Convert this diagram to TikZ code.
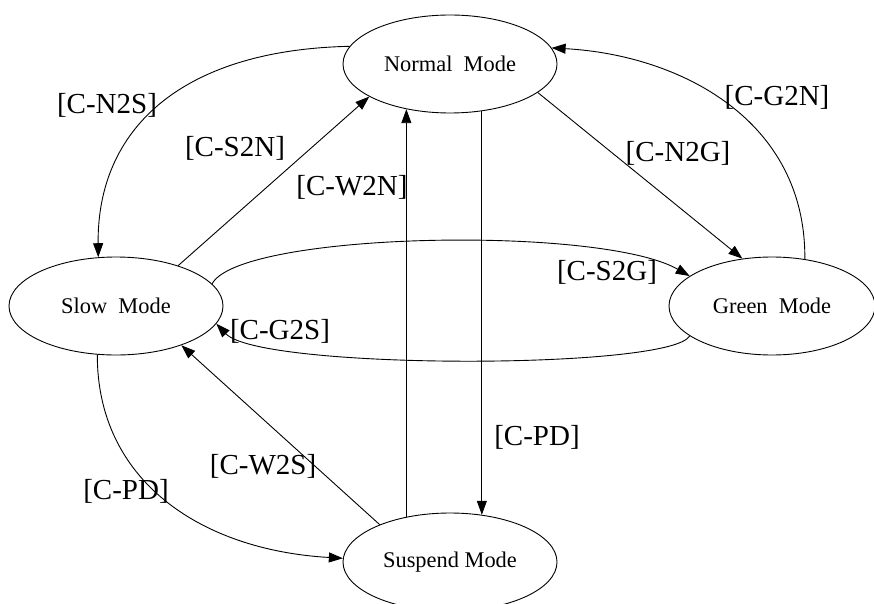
\documentclass[tikz,border=0pt]{standalone}
\usepackage{fontspec}
\setmainfont{Liberation Serif}
\usetikzlibrary{shapes.geometric,arrows.meta}
\begin{document}
\begin{tikzpicture}[x=1pt,y=-1pt,
  state/.style={ellipse,draw,line width=0.9pt,minimum width=214pt,minimum height=98pt,inner sep=0pt,font=\fontsize{22.4}{26}\selectfont},
  edge/.style={line width=0.9pt,-{Triangle[length=14pt,width=10pt]}},
  lab/.style={font=\fontsize{29}{34}\selectfont,inner sep=0pt}]
\useasboundingbox (0,0) rectangle (874,604);
\clip (0,0) rectangle (874,604);
\node[state] (N) at (450,64) {Normal\ \ Mode};
\node[state] (S) at (116,306) {Slow\ \ Mode};
\node[state,minimum width=206pt] (G) at (772,306) {Green\ \ Mode};
\node[state] (U) at (450,562) {Suspend Mode};

\draw[edge] (N.170) .. controls (180,50) and (97,130) .. (S.110);
\draw[edge] (S.33) -- (N.202);
\draw[edge] (U.134) -- (N.226);
\draw[edge] (N.-56.5) -- (U.56.5);
\draw[edge] (N.-18) -- (G.122);
\draw[edge] (G.55) .. controls (806,120) and (680,55) .. (N.9.5);
\draw[edge] (S.13) .. controls (240,232) and (600,225) .. (G.160);
\draw[edge] (G.200) .. controls (670,370) and (260,370) .. (S.-10);
\draw[edge] (U.152) -- (S.-31);
\draw[edge] (S.249) .. controls (97,480) and (200,550) .. (U.178);

\node[lab] (l1) at (107,105) {[C-N2S]};
\node[lab] (l2) at (235,148) {[C-S2N]};
\node[lab] (l3) at (352,187) {[C-W2N]};
\node[lab] (l4) at (537,437) {[C-PD]};
\node[lab] (l5) at (678,153) {[C-N2G]};
\node[lab] (l6) at (777,97) {[C-G2N]};
\node[lab] (l7) at (607,272) {[C-S2G]};
\node[lab] (l8) at (280,331) {[C-G2S]};
\node[lab] (l9) at (263,466) {[C-W2S]};
\node[lab] (l10) at (126,491) {[C-PD]};
\end{tikzpicture}
\end{document}
